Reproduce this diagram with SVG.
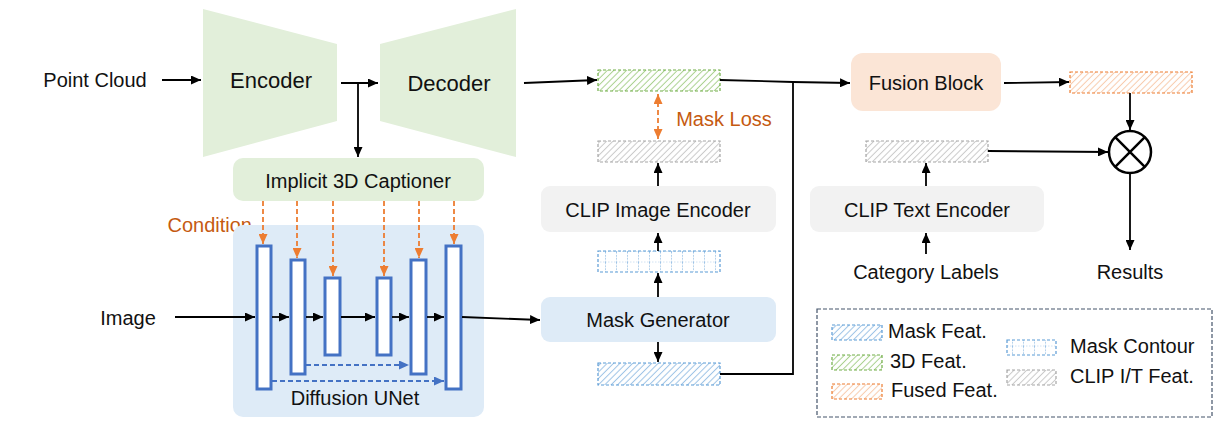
<svg xmlns="http://www.w3.org/2000/svg" width="1221" height="429" viewBox="0 0 1221 429">
<style>
text{font-family:"Liberation Sans",Arial,sans-serif;font-size:20px;fill:#111;}
.big{font-size:22px;}
.or{fill:#c55a11;}
.ln{stroke:#000;stroke-width:1.8;fill:none;}
.oa{stroke:#ed7d31;stroke-width:1.8;stroke-dasharray:5 3;fill:none;}
.ba{stroke:#4472c4;stroke-width:1.8;stroke-dasharray:5 3;fill:none;}
.bar{fill:#fff;stroke:#4472c4;stroke-width:3;}
.fG{fill:url(#hG);stroke:#70ad47;stroke-width:1.2;stroke-dasharray:3 2;}
.fB{fill:url(#hB);stroke:#5b9bd5;stroke-width:1.2;stroke-dasharray:3 2;}
.fO{fill:url(#hO);stroke:#ed7d31;stroke-width:1.2;stroke-dasharray:3 2;}
.fY{fill:url(#hY);stroke:#a6a6a6;stroke-width:1.2;stroke-dasharray:3 2;}
.fC{fill:url(#hC);stroke:#5b9bd5;stroke-width:1.2;stroke-dasharray:3 2;}
</style>
<defs>
<marker id="ak" markerUnits="userSpaceOnUse" markerWidth="10" markerHeight="9" refX="10" refY="4.5" orient="auto"><path d="M0,0 L10,4.5 L0,9 z" fill="#000"/></marker>
<marker id="ao" markerUnits="userSpaceOnUse" markerWidth="10" markerHeight="9" refX="10" refY="4.5" orient="auto"><path d="M0,0 L10,4.5 L0,9 z" fill="#ed7d31"/></marker>
<marker id="aos" markerUnits="userSpaceOnUse" markerWidth="10" markerHeight="9" refX="0" refY="4.5" orient="auto"><path d="M10,0 L0,4.5 L10,9 z" fill="#ed7d31"/></marker>
<marker id="ab" markerUnits="userSpaceOnUse" markerWidth="10" markerHeight="9" refX="10" refY="4.5" orient="auto"><path d="M0,0 L10,4.5 L0,9 z" fill="#4472c4"/></marker>
<pattern id="hG" width="4.5" height="4.5" patternUnits="userSpaceOnUse" patternTransform="rotate(45)"><rect width="4.5" height="4.5" fill="#fff"/><line x1="2.25" y1="0" x2="2.25" y2="4.5" stroke="#a9d18e" stroke-width="1"/></pattern>
<pattern id="hB" width="4.5" height="4.5" patternUnits="userSpaceOnUse" patternTransform="rotate(45)"><rect width="4.5" height="4.5" fill="#fff"/><line x1="2.25" y1="0" x2="2.25" y2="4.5" stroke="#9dc3e6" stroke-width="1"/></pattern>
<pattern id="hO" width="4.5" height="4.5" patternUnits="userSpaceOnUse" patternTransform="rotate(45)"><rect width="4.5" height="4.5" fill="#fff"/><line x1="2.25" y1="0" x2="2.25" y2="4.5" stroke="#f8cbad" stroke-width="1"/></pattern>
<pattern id="hY" width="4.5" height="4.5" patternUnits="userSpaceOnUse" patternTransform="rotate(45)"><rect width="4.5" height="4.5" fill="#fff"/><line x1="2.25" y1="0" x2="2.25" y2="4.5" stroke="#c9c9c9" stroke-width="1"/></pattern>
<pattern id="hC" x="0" y="0" width="11" height="10.5" patternUnits="userSpaceOnUse"><rect width="11" height="10.5" fill="#fff"/><line x1="0.5" y1="0" x2="0.5" y2="10.5" stroke="#9dc3e6" stroke-width="1" stroke-dasharray="1.5 1.5"/><line x1="0" y1="10.5" x2="11" y2="10.5" stroke="#9dc3e6" stroke-width="1" stroke-dasharray="1.5 1.5"/></pattern>
</defs>

<g id="point-cloud"><text x="95" y="87" text-anchor="middle">Point Cloud</text></g>
<g id="encoder"><polygon points="203,9 337,44 337,121 203,157" fill="#e2efda"/><text class="big" x="271" y="88" text-anchor="middle">Encoder</text></g>
<g id="decoder"><polygon points="380,44 516,9 516,157 380,121" fill="#e2efda"/><text class="big" x="449" y="91" text-anchor="middle">Decoder</text></g>
<g id="feat-3d"><rect class="fG" x="598" y="70" width="122" height="21"/></g>
<g id="fusion-block"><rect x="851" y="53" width="150" height="58" rx="12" fill="#fbe5d6"/><text x="926" y="90" text-anchor="middle">Fusion Block</text></g>
<g id="feat-fused"><rect class="fO" x="1070" y="72" width="122" height="21"/></g>
<g id="multiply"><circle cx="1130" cy="152" r="21" fill="#fff" stroke="#000" stroke-width="2.5"/><path d="M1115.2,137.2 L1144.8,166.8 M1144.8,137.2 L1115.2,166.8" stroke="#000" stroke-width="2.5"/></g>
<g id="results"><text x="1130" y="279" text-anchor="middle">Results</text></g>
<g id="feat-clip-t"><rect class="fY" x="866" y="141" width="122" height="21"/></g>
<g id="clip-text-encoder"><rect x="810" y="186" width="234" height="46" rx="9" fill="#f2f2f2"/><text x="927" y="217" text-anchor="middle">CLIP Text Encoder</text></g>
<g id="category-labels"><text x="926" y="279" text-anchor="middle">Category Labels</text></g>
<g id="mask-loss"><text class="or" x="724" y="126" text-anchor="middle">Mask Loss</text></g>
<g id="feat-clip-i"><rect class="fY" x="598" y="141" width="122" height="21"/></g>
<g id="clip-image-encoder"><rect x="541" y="186" width="235" height="46" rx="9" fill="#f2f2f2"/><text x="658" y="217" text-anchor="middle">CLIP Image Encoder</text></g>
<g id="mask-contour"><rect class="fC" x="598" y="251" width="122" height="21"/></g>
<g id="mask-generator"><rect x="541" y="297" width="235" height="45" rx="9" fill="#deebf7"/><text x="658" y="327" text-anchor="middle">Mask Generator</text></g>
<g id="feat-mask"><rect class="fB" x="598" y="363" width="122" height="22"/></g>
<g id="image"><text x="128" y="325" text-anchor="middle">Image</text></g>
<g id="captioner"><rect x="233" y="158" width="251" height="43" rx="10" fill="#e2efda"/><text x="358" y="188" text-anchor="middle">Implicit 3D Captioner</text></g>
<g id="condition"><text class="or" x="252" y="232" text-anchor="end">Condition</text></g>
<g id="diffusion-unet">
<rect x="233" y="225" width="251" height="192" rx="10" fill="#deebf7"/>
<rect class="bar" x="257" y="246" width="14" height="143"/>
<rect class="bar" x="291" y="260" width="14" height="114"/>
<rect class="bar" x="325" y="278" width="15" height="77"/>
<rect class="bar" x="377" y="278" width="14" height="77"/>
<rect class="bar" x="411" y="260" width="15" height="114"/>
<rect class="bar" x="446" y="246" width="15" height="143"/>
<text x="355" y="405" text-anchor="middle">Diffusion UNet</text>
</g>

<g id="legend">
<rect x="817" y="309" width="395" height="108" fill="none" stroke="#44546a" stroke-width="1.2" stroke-dasharray="4 2"/>
<rect class="fB" x="832" y="325" width="50" height="15"/><text x="888" y="338" font-size="19">Mask Feat.</text>
<rect class="fG" x="832" y="355" width="50" height="15"/><text x="890" y="368" font-size="19">3D Feat.</text>
<rect class="fO" x="832" y="384" width="50" height="15"/><text x="891" y="397" font-size="19">Fused Feat.</text>
<rect class="fC" x="1007" y="340" width="49" height="15"/><text x="1070" y="353" font-size="19">Mask Contour</text>
<rect class="fY" x="1007" y="370" width="49" height="15"/><text x="1070" y="383" font-size="19">CLIP I/T Feat.</text>
</g>

<g id="connectors">
<line class="ln" x1="162" y1="80" x2="201" y2="80" marker-end="url(#ak)"/>
<line class="ln" x1="341" y1="83" x2="378" y2="83" marker-end="url(#ak)"/>
<line class="ln" x1="358" y1="83" x2="358" y2="157" marker-end="url(#ak)"/>
<line class="ln" x1="524" y1="83" x2="597" y2="80" marker-end="url(#ak)"/>
<polyline class="ln" points="720,80 793,82 850,83" marker-end="url(#ak)"/>
<polyline class="ln" points="720,374 793,374 793,82"/>
<line class="ln" x1="1004" y1="83" x2="1069" y2="82" marker-end="url(#ak)"/>
<line class="ln" x1="1130" y1="93" x2="1130" y2="130" marker-end="url(#ak)"/>
<line class="ln" x1="988" y1="151" x2="1108" y2="152" marker-end="url(#ak)"/>
<line class="ln" x1="1130" y1="174" x2="1130" y2="250" marker-end="url(#ak)"/>
<line class="ln" x1="926" y1="186" x2="926" y2="163" marker-end="url(#ak)"/>
<line class="ln" x1="926" y1="254" x2="926" y2="233" marker-end="url(#ak)"/>
<line class="oa" x1="658" y1="94" x2="658" y2="139" marker-start="url(#aos)" marker-end="url(#ao)"/>
<line class="ln" x1="658" y1="186" x2="658" y2="163" marker-end="url(#ak)"/>
<line class="ln" x1="658" y1="251" x2="658" y2="233" marker-end="url(#ak)"/>
<line class="ln" x1="658" y1="297" x2="658" y2="273" marker-end="url(#ak)"/>
<line class="ln" x1="658" y1="342" x2="658" y2="362" marker-end="url(#ak)"/>
<line class="ln" x1="175" y1="317" x2="255" y2="317" marker-end="url(#ak)"/>
<line class="ln" x1="272" y1="317" x2="289" y2="317" marker-end="url(#ak)"/>
<line class="ln" x1="306" y1="317" x2="323" y2="317" marker-end="url(#ak)"/>
<line class="ln" x1="341" y1="317" x2="375" y2="317" marker-end="url(#ak)"/>
<line class="ln" x1="392" y1="317" x2="409" y2="317" marker-end="url(#ak)"/>
<line class="ln" x1="427" y1="317" x2="444" y2="317" marker-end="url(#ak)"/>
<line class="ln" x1="462" y1="317" x2="540" y2="320" marker-end="url(#ak)"/>
<line class="ba" x1="306" y1="365" x2="409" y2="365" marker-end="url(#ab)"/>
<line class="ba" x1="272" y1="381" x2="444" y2="381" marker-end="url(#ab)"/>
<line class="oa" x1="263" y1="201" x2="263" y2="244" marker-end="url(#ao)"/>
<line class="oa" x1="297" y1="201" x2="297" y2="258" marker-end="url(#ao)"/>
<line class="oa" x1="333" y1="201" x2="333" y2="276" marker-end="url(#ao)"/>
<line class="oa" x1="384" y1="201" x2="384" y2="276" marker-end="url(#ao)"/>
<line class="oa" x1="419" y1="201" x2="419" y2="258" marker-end="url(#ao)"/>
<line class="oa" x1="454" y1="201" x2="454" y2="244" marker-end="url(#ao)"/>
</g>
</svg>
